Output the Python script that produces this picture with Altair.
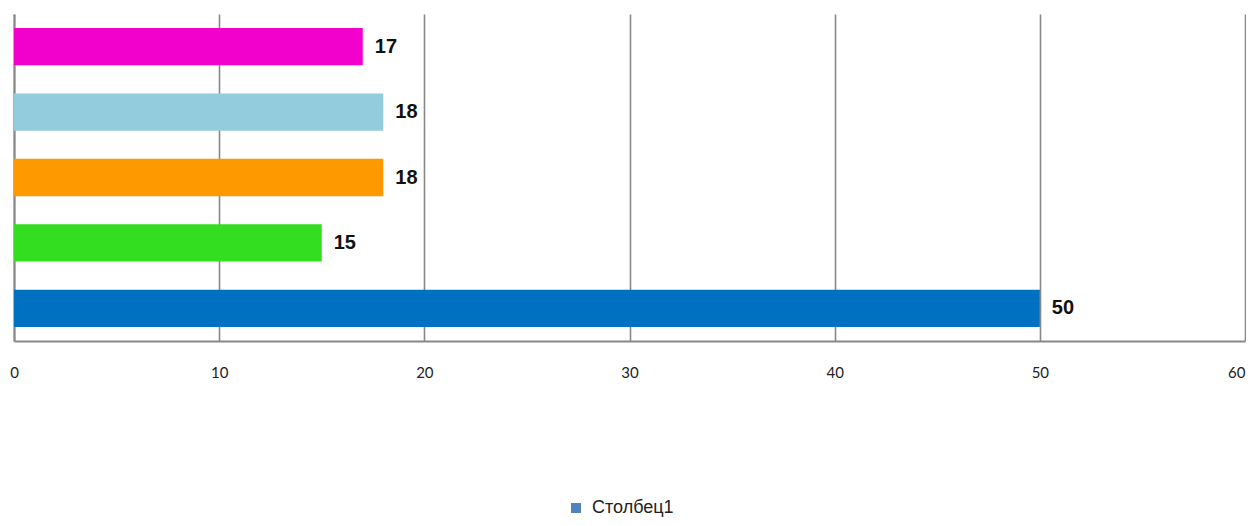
import altair as alt
import pandas as pd

categories = ["Категория 5", "Категория 4", "Категория 3", "Категория 2", "Категория 1"]
values = [17, 18, 18, 15, 50]
bar_colors = ["#F200CC", "#93CDDD", "#FF9900", "#33DD1F", "#0070C0"]
series_name = "Столбец1"
x_ticks = [0, 10, 20, 30, 40, 50, 60]

df = pd.DataFrame({
    "cat": categories,
    "val": values,
    "col": bar_colors,
    "series": [series_name] * len(categories),
})

y_enc = alt.Y("cat:N", sort=categories, title=None,
              scale=alt.Scale(paddingInner=0.43, paddingOuter=0.215),
              axis=alt.Axis(labels=False, ticks=False, domain=True,
                            domainColor="#888888", domainWidth=2, grid=False))
x_enc = alt.X("val:Q", title=None,
              scale=alt.Scale(domain=[0, 60], nice=False),
              axis=alt.Axis(values=x_ticks, ticks=False, grid=True,
                            gridColor="#888888", gridWidth=1.6,
                            domainColor="#888888", domainWidth=2,
                            labelFont="Lato", labelFontSize=15, labelColor="#222222",
                            labelPadding=24, labelFlush=False,
                            labelAlign=alt.expr("datum.value == 60 ? 'right' : 'center'")))

bars = alt.Chart(df).mark_bar().encode(
    x=x_enc, y=y_enc,
    color=alt.Color("col:N", scale=None),
)

labels = alt.Chart(df).mark_text(
    align="left", baseline="middle", dx=12,
    font="Liberation Sans", fontSize=20, fontWeight="bold", color="#111111",
).encode(x="val:Q", y=alt.Y("cat:N", sort=categories), text="val:Q")

legend_layer = alt.Chart(df).mark_point(opacity=0, shape="square", filled=True).encode(
    x="val:Q", y=alt.Y("cat:N", sort=categories),
    fill=alt.Fill("series:N", title=None,
                  scale=alt.Scale(domain=[series_name], range=["#4F81BD"]),
                  legend=alt.Legend(orient="none", legendX=553, legendY=485,
                                    padding=0,
                                    symbolType="square", symbolSize=100,
                                    symbolOpacity=1, symbolStrokeWidth=0,
                                    labelFont="Liberation Sans", labelFontSize=18,
                                    labelColor="#222222", labelOffset=7)),
)

chart = alt.layer(bars, labels, legend_layer).properties(
    width=1231, height=327,
    padding={"left": 6, "top": 6, "right": 1, "bottom": 177},
    autosize=alt.AutoSizeParams(type="none"),
    background="white",
).configure_view(stroke=None)

chart.save("out.html", embed_options={"renderer": "svg", "actions": False})
